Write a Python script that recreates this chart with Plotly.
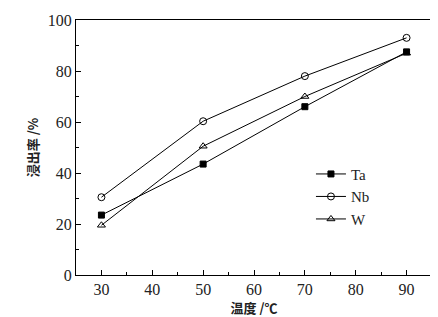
import plotly.graph_objects as go

temps = [30, 50, 70, 90]
ta = [23.5, 43.5, 66, 87.5]
nb = [30.5, 60.3, 78, 93]
w = [19.5, 50.5, 70, 87]

series = [
    ("Ta", ta, "square", 6),
    ("Nb", nb, "circle-open", 7),
    ("W", w, "triangle-up-open", 7),
]

fig = go.Figure()
for name, vals, sym, sz in series:
    fig.add_trace(go.Scatter(
        x=temps, y=vals, name=name, mode="lines+markers",
        line=dict(color="black", width=1),
        marker=dict(symbol=sym, size=sz, color="black", line=dict(color="black", width=1)),
    ))

serif = "Liberation Serif"
axis_common = dict(
    showline=True, linecolor="black", linewidth=1, mirror=True,
    ticks="inside", ticklen=5, tickcolor="black", showgrid=False, zeroline=False,
    automargin=False,
    tickfont=dict(family=serif, size=16, color="#222"),
)

fig.update_xaxes(range=[25, 95], tick0=30, dtick=10,
                 minor=dict(ticks="inside", ticklen=3, dtick=5, tick0=25, tickcolor="black"),
                 title=dict(text="温度 /℃", font=dict(family="Noto Sans CJK SC", size=13, color="#222", weight="bold"), standoff=3),
                 **axis_common)
fig.update_yaxes(range=[0, 100], dtick=20,
                 minor=dict(ticks="inside", ticklen=3, dtick=10, tickcolor="black"),
                 title=dict(text="浸出率 /%", font=dict(family="Noto Sans CJK SC", size=13, color="#222", weight="bold"), standoff=6),
                 **axis_common)

fig.update_layout(
    width=438, height=317,
    font=dict(family=serif, color="#222"),
    margin=dict(l=68, r=14, t=12, b=50, autoexpand=False),
    paper_bgcolor="white", plot_bgcolor="white",
    showlegend=True,
    legend=dict(x=0.66, y=0.46, xanchor="left", yanchor="top",
                font=dict(family=serif, size=15, color="#222"),
                bgcolor="rgba(0,0,0,0)", tracegroupgap=0),
)

fig.write_html("out.html")
